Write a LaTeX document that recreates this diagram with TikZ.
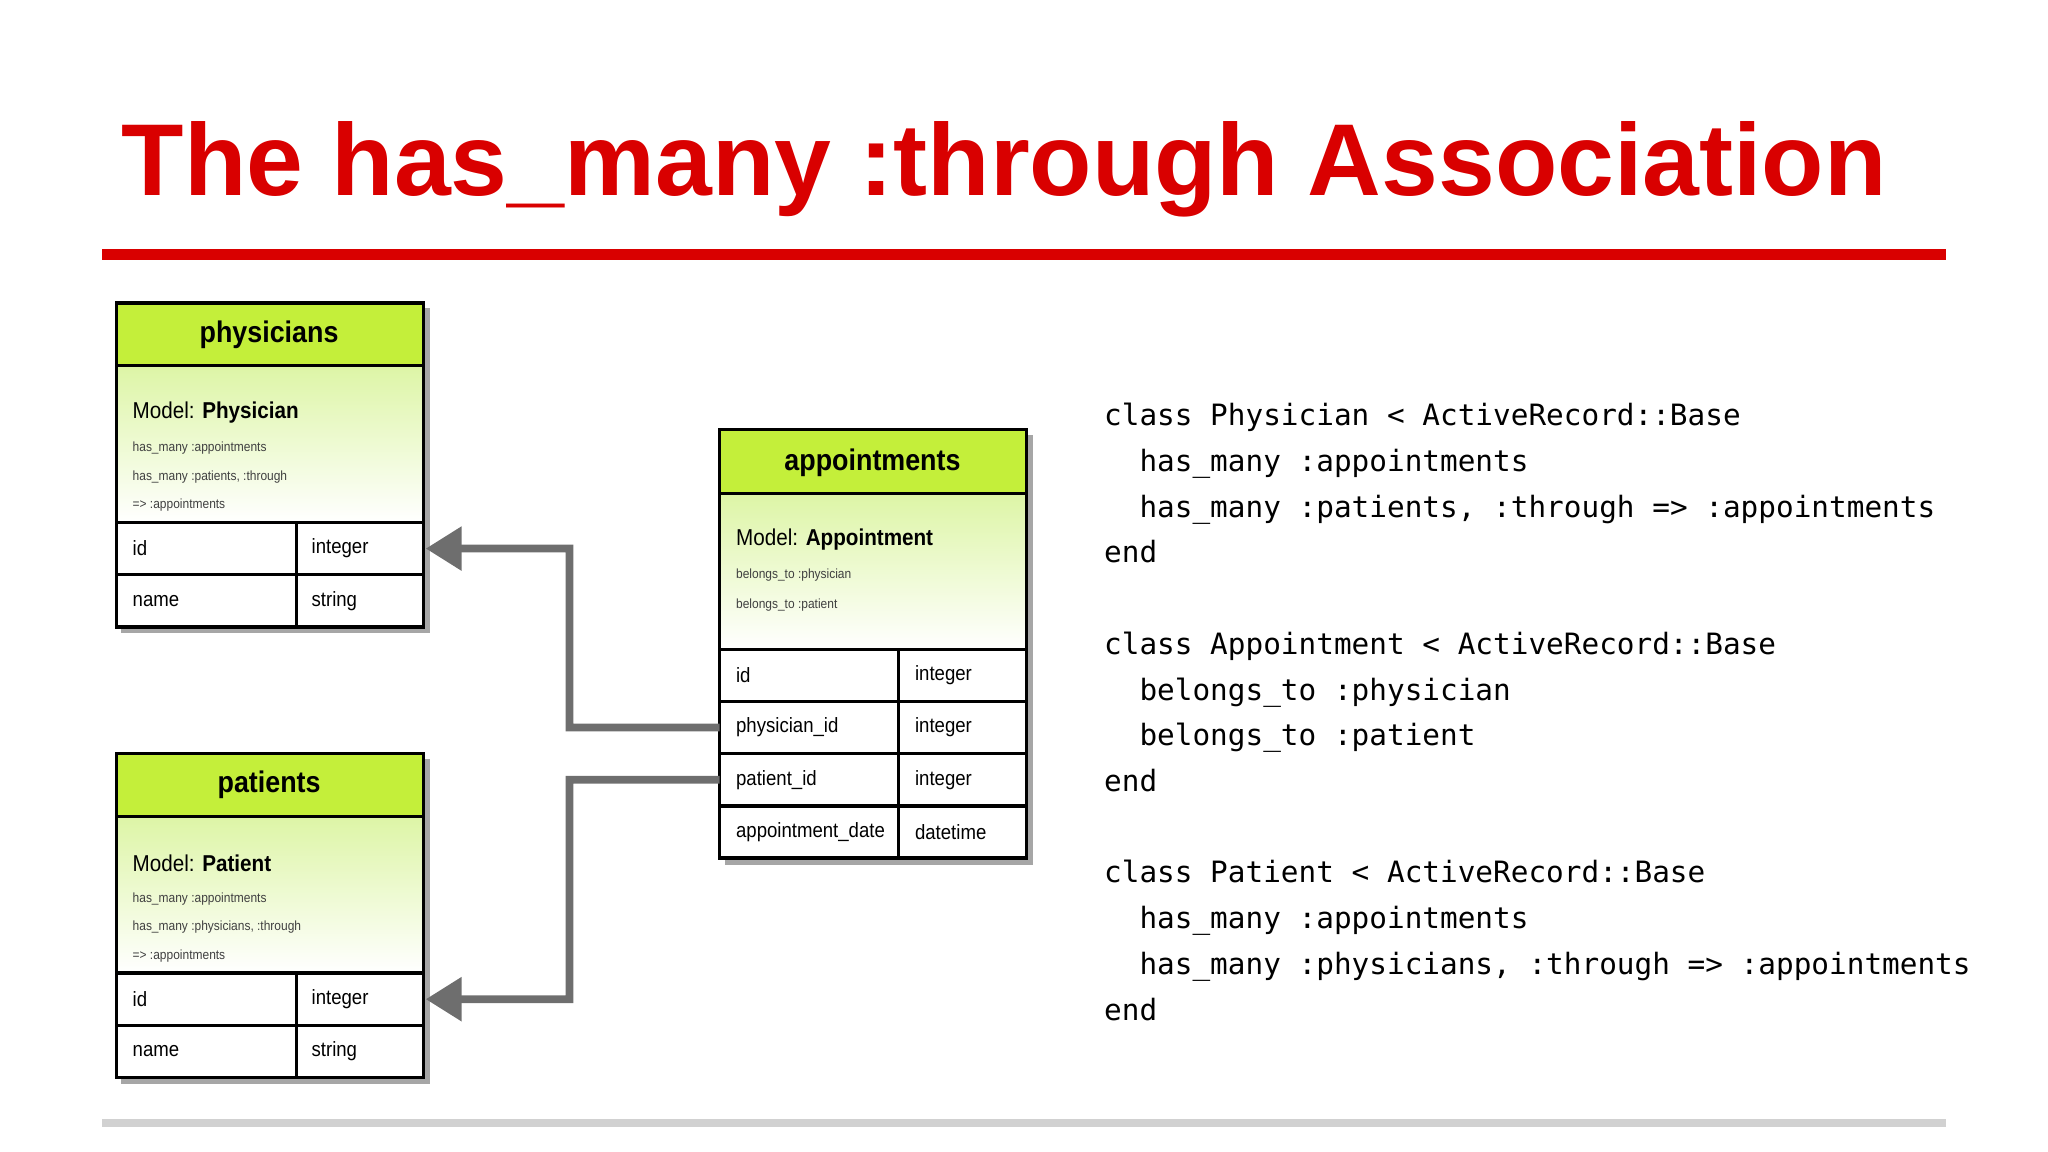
\documentclass[tikz,border=0pt]{standalone}
\usepackage{fontspec}
\setmainfont{Liberation Sans}
\newfontfamily\codefont{DejaVu Sans Mono}
\usetikzlibrary{arrows.meta}
\definecolor{hdr}{HTML}{C4EF3A}
\definecolor{lgt}{HTML}{DDF5A6}
\definecolor{ttl}{HTML}{D90000}
\definecolor{conn}{HTML}{6E6E6E}
\tikzset{
  hdrbox/.style={draw=black,line width=0.05cm,fill=hdr},
  hdrtxt/.style={font=\bfseries\fontsize{13}{15}\selectfont,xscale=0.9},
  bodybox/.style={draw=black,line width=0.05cm,top color=lgt,bottom color=white},
  cell/.style={draw=black,line width=0.05cm,fill=white,anchor=north west,inner sep=0pt,outer sep=0pt},
  celltxt/.style={font=\fontsize{9}{11}\selectfont,anchor=west,xscale=0.9},
  modeltxt/.style={font=\fontsize{10}{12}\selectfont,anchor=west,xscale=0.9},
  small/.style={font=\fontsize{5.8}{7}\selectfont,anchor=west,text=black!75,xscale=0.9},
  conn/.style={draw=conn,line width=0.12cm,-{Triangle[length=0.55cm,width=0.65cm]}},
  codeline/.style={font=\codefont\fontsize{12.8}{14}\selectfont,anchor=base west,inner sep=0pt}
}
\begin{document}
\begin{tikzpicture}[x=0.02cm,y=-0.02cm]
\useasboundingbox (0,0) rectangle (1568,882);
\node[anchor=base west,text=ttl,font=\bfseries\fontsize{44.5}{50}\selectfont,inner sep=0pt] (title) at (93,150) {The has\_many :through Association};
\fill[ttl] (78,191) rectangle (1490,199);
\fill[black!18] (78,857) rectangle (1490,863);
% shadows
\fill[black!35] (93,236) rectangle (329,485);
\fill[black!35] (93,581) rectangle (329,830);
\fill[black!35] (555,333) rectangle (791,662);
% physicians
\draw[hdrbox] (89,232) rectangle (324,280);
\node[hdrtxt] (phh) at (206,256) {physicians};
\draw[bodybox] (89,280) rectangle (324,400);
\node[modeltxt] (phm) at (96,316) {Model: \textbf{Physician}};
\node[small] at (96,343) {has\_many :appointments};
\node[small] at (96,365) {has\_many :patients, :through};
\node[small] at (96,387) {=> :appointments};
\node[cell,minimum width=2.76cm,minimum height=0.8cm] (phid) at (89,400) {};
\node[cell,minimum width=1.94cm,minimum height=0.8cm] (phidt) at (227,400) {};
\node[cell,minimum width=2.76cm,minimum height=0.8cm] (phn) at (89,440) {};
\node[cell,minimum width=1.94cm,minimum height=0.8cm] (phnt) at (227,440) {};
\node[celltxt] at (96,420) {id}; \node[celltxt] at (233,420) {integer};
\node[celltxt] at (96,460) {name}; \node[celltxt] at (233,460) {string};
% patients
\draw[hdrbox] (89,577) rectangle (324,625);
\node[hdrtxt] (pah) at (206,601) {patients};
\draw[bodybox] (89,625) rectangle (324,745);
\node[modeltxt] at (96,661) {Model: \textbf{Patient}};
\node[small] at (96,688) {has\_many :appointments};
\node[small] at (96,710) {has\_many :physicians, :through};
\node[small] at (96,732) {=> :appointments};
\node[cell,minimum width=2.76cm,minimum height=0.8cm] (paid) at (89,745) {};
\node[cell,minimum width=1.94cm,minimum height=0.8cm] (paidt) at (227,745) {};
\node[cell,minimum width=2.76cm,minimum height=0.8cm] (pan) at (89,785) {};
\node[cell,minimum width=1.94cm,minimum height=0.8cm] (pant) at (227,785) {};
\node[celltxt] at (96,765) {id}; \node[celltxt] at (233,765) {integer};
\node[celltxt] at (96,805) {name}; \node[celltxt] at (233,805) {string};
% appointments
\draw[hdrbox] (551,329) rectangle (786,378);
\node[hdrtxt] (aph) at (668,354) {appointments};
\draw[bodybox] (551,378) rectangle (786,497);
\node[modeltxt] at (558,413) {Model: \textbf{Appointment}};
\node[small] at (558,440) {belongs\_to :physician};
\node[small] at (558,463) {belongs\_to :patient};
\node[cell,minimum width=2.74cm,minimum height=0.8cm] (aid) at (551,497) {};
\node[cell,minimum width=1.96cm,minimum height=0.8cm] (aidt) at (688,497) {};
\node[cell,minimum width=2.74cm,minimum height=0.8cm] (aphy) at (551,537) {};
\node[cell,minimum width=1.96cm,minimum height=0.8cm] (aphyt) at (688,537) {};
\node[cell,minimum width=2.74cm,minimum height=0.8cm] (apat) at (551,577) {};
\node[cell,minimum width=1.96cm,minimum height=0.8cm] (apatt) at (688,577) {};
\node[cell,minimum width=2.74cm,minimum height=0.8cm] (adate) at (551,617) {};
\node[cell,minimum width=1.96cm,minimum height=0.8cm] (adatet) at (688,617) {};
\node[celltxt] at (558,517) {id}; \node[celltxt] at (695,517) {integer};
\node[celltxt] at (558,557) {physician\_id}; \node[celltxt] at (695,557) {integer};
\node[celltxt] at (558,597) {patient\_id}; \node[celltxt] at (695,597) {integer};
\node[celltxt] at (558,637) {appointment\_date}; \node[celltxt] at (695,637) {datetime};
% connectors
\coordinate (b1) at (436,557);
\coordinate (b3) at (436,597);
\draw[conn] (aphy.west) -- (b1) |- ([xshift=0.04cm]phidt.east);
\draw[conn] (apat.west) -- (b3) |- ([xshift=0.04cm]paidt.east);
% code
\node[codeline] (c1) at (845,326) {class Physician < ActiveRecord::Base};
\node[codeline] (c2) at (845,361) {\ \ has\_many :appointments};
\node[codeline] (c3) at (845,396) {\ \ has\_many :patients, :through => :appointments};
\node[codeline] (c4) at (845,431) {end};
\node[codeline] (c5) at (845,501) {class Appointment < ActiveRecord::Base};
\node[codeline] (c6) at (845,536) {\ \ belongs\_to :physician};
\node[codeline] (c7) at (845,571) {\ \ belongs\_to :patient};
\node[codeline] (c8) at (845,606) {end};
\node[codeline] (c9) at (845,676) {class Patient < ActiveRecord::Base};
\node[codeline] (c10) at (845,711) {\ \ has\_many :appointments};
\node[codeline] (c11) at (845,746) {\ \ has\_many :physicians, :through => :appointments};
\node[codeline] (c12) at (845,781) {end};
\end{tikzpicture}
\end{document}
